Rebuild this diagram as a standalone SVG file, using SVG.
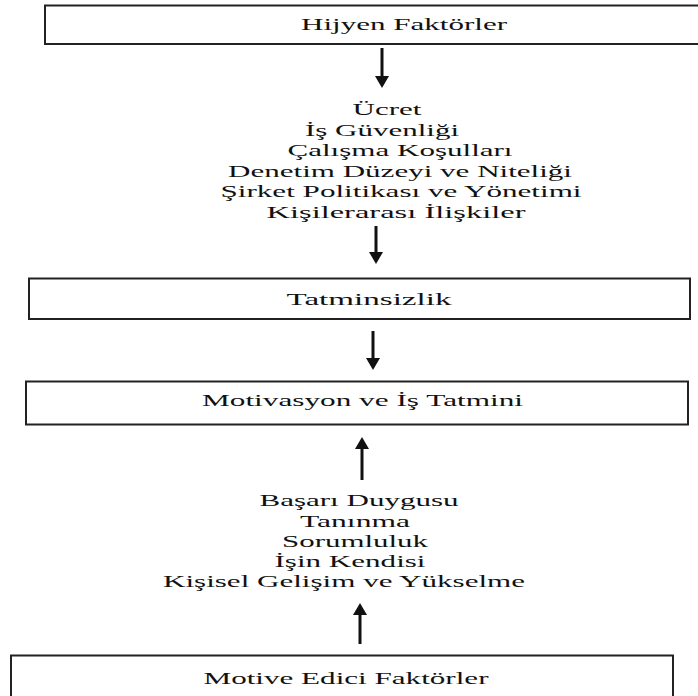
<svg xmlns="http://www.w3.org/2000/svg" width="698" height="696" viewBox="0 0 698 696">
<defs>
<style>
.box{fill:#fff;stroke:#222;stroke-width:2}
.t{font-family:"Liberation Serif","Times New Roman",serif;font-size:17.5px;fill:#111;text-anchor:middle}
.c{stroke:#111;stroke-width:3;fill:none}
</style>
<marker id="ah" markerUnits="userSpaceOnUse" markerWidth="12" markerHeight="14" refX="1" refY="7" orient="auto" viewBox="0 0 12 14">
<path d="M0,0 L12,7 L0,14 z" fill="#111"/>
</marker>
</defs>
<rect width="698" height="696" fill="#fff"/>
<g id="connectors">
<line class="c" x1="382" y1="48" x2="382" y2="77" marker-end="url(#ah)"/>
<line class="c" x1="376" y1="226" x2="376" y2="253" marker-end="url(#ah)"/>
<line class="c" x1="373" y1="331" x2="373" y2="359" marker-end="url(#ah)"/>
<line class="c" x1="362" y1="480" x2="362" y2="448" marker-end="url(#ah)"/>
<line class="c" x1="360" y1="644" x2="360" y2="614" marker-end="url(#ah)"/>
</g>
<g id="hijyen">
<rect class="box" x="45" y="5.5" width="680" height="38.5"/>
<text class="t" x="404" y="29.5" textLength="206" lengthAdjust="spacingAndGlyphs">Hijyen Faktörler</text>
</g>
<g id="hijyen-list">
<text class="t" x="387" y="115" textLength="69" lengthAdjust="spacingAndGlyphs">Ücret</text>
<text class="t" x="382" y="135.5" textLength="154" lengthAdjust="spacingAndGlyphs">İş Güvenliği</text>
<text class="t" x="400" y="156" textLength="225" lengthAdjust="spacingAndGlyphs">Çalışma Koşulları</text>
<text class="t" x="400" y="176.5" textLength="344" lengthAdjust="spacingAndGlyphs">Denetim Düzeyi ve Niteliği</text>
<text class="t" x="401" y="197" textLength="361" lengthAdjust="spacingAndGlyphs">Şirket Politikası ve Yönetimi</text>
<text class="t" x="396" y="217.5" textLength="259" lengthAdjust="spacingAndGlyphs">Kişilerarası İlişkiler</text>
</g>
<g id="tatminsizlik">
<rect class="box" x="29" y="278.5" width="661" height="40.5"/>
<text class="t" x="369" y="305" textLength="165" lengthAdjust="spacingAndGlyphs">Tatminsizlik</text>
</g>
<g id="motivasyon">
<rect class="box" x="26" y="381.5" width="662" height="43"/>
<text class="t" x="362.5" y="406" textLength="321" lengthAdjust="spacingAndGlyphs">Motivasyon ve İş Tatmini</text>
</g>
<g id="motive-list">
<text class="t" x="359" y="506" textLength="199" lengthAdjust="spacingAndGlyphs">Başarı Duygusu</text>
<text class="t" x="355" y="527" textLength="110" lengthAdjust="spacingAndGlyphs">Tanınma</text>
<text class="t" x="355" y="547" textLength="146" lengthAdjust="spacingAndGlyphs">Sorumluluk</text>
<text class="t" x="350" y="567" textLength="151" lengthAdjust="spacingAndGlyphs">İşin Kendisi</text>
<text class="t" x="344" y="587" textLength="362" lengthAdjust="spacingAndGlyphs">Kişisel Gelişim ve Yükselme</text>
</g>
<g id="motive">
<rect class="box" x="11" y="655.5" width="662" height="50"/>
<text class="t" x="346" y="684" textLength="285" lengthAdjust="spacingAndGlyphs">Motive Edici Faktörler</text>
</g>
</svg>
